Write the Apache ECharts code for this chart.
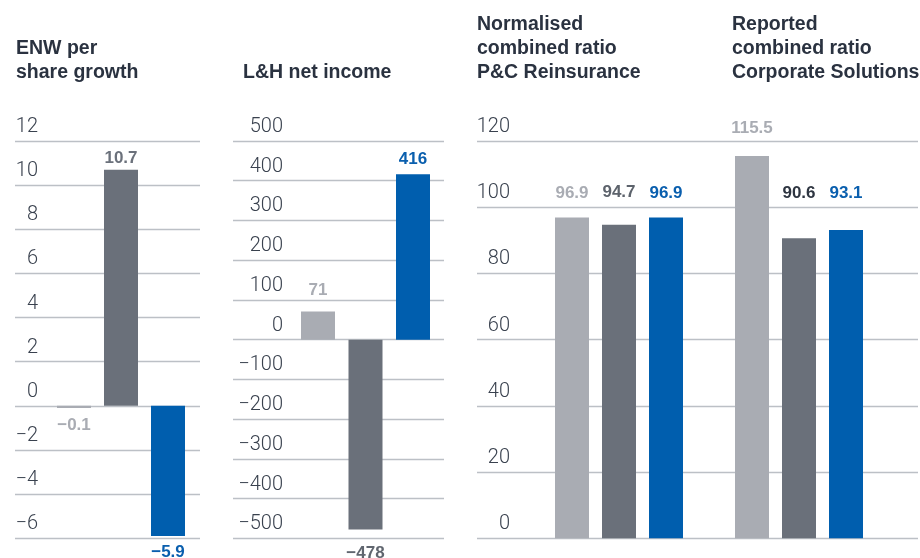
<!DOCTYPE html>
<html><head><meta charset="utf-8">
<script src="https://cdn.jsdelivr.net/npm/echarts@6/dist/echarts.min.js"></script>
<style>html,body{margin:0;padding:0;background:#fff}#c{width:920px;height:558px}</style>
</head><body><div id="c"></div>
<script>
// ---- data ----
const categories = ['Year 1', 'Year 2', 'Year 3'];
const enwPerShareGrowth = [-0.1, 10.7, -5.9];
const lhNetIncome = [71, -478, 416];
const pcReinsuranceRatio = [96.9, 94.7, 96.9];
const corporateSolutionsRatio = [115.5, 90.6, 93.1];
const panelTitles = ['ENW per\nshare growth', 'L&H net income', 'Normalised\ncombined ratio\nP&C Reinsurance', 'Reported\ncombined ratio\nCorporate Solutions'];
const enwTicks = { min: -6, max: 12, interval: 2 };
const lhTicks = { min: -500, max: 500, interval: 100 };
const ratioTicks = { min: 0, max: 120, interval: 20 };

// ---- styles ----
const barColors = ['#a9acb3', '#6a707a', '#005eae'];
const labelColors = [
  ['#a9acb3', '#6b717b', '#0a5fae'],
  ['#a9acb3', '#60666f', '#0a5fae'],
  ['#a9acb3', '#5d636c', '#0a5fae'],
  ['#a9acb3', '#2e3541', '#0a5fae']
];
const labelDistances = [[8.4, 3, 7.6], [12.3, 14.8, 6.6], [16, 24.3, 16], [18.6, 37, 28.6]];
const minus = v => String(v).replace('-', '\u2212');

const gridTop = 141, gridBottom = 19.7;
// axis (gridline) grids and bar grids
const axisGrids = [
  { left: 15, width: 185 },
  { left: 233, width: 211 },
  { left: 477, width: 441 }
];
const axisLabelMargins = [23, 50, 33];
const barGrids = [
  { left: 50.5, width: 141 },
  { left: 294.25, width: 142.5 },
  { left: 548.5, width: 141 },
  { left: 728.5, width: 141 }
];
const panelTicks = [enwTicks, lhTicks, ratioTicks, ratioTicks];
const panelData = [enwPerShareGrowth, lhNetIncome, pcReinsuranceRatio, corporateSolutionsRatio];
const titlePos = [{ left: 16, lines: 2 }, { left: 243, lines: 1 }, { left: 477, lines: 3 }, { left: 732, lines: 3 }];

const grid = [];
const xAxis = [];
const yAxis = [];
const series = [];

axisGrids.forEach((g, i) => {
  grid.push({ left: g.left, width: g.width, top: gridTop, bottom: gridBottom, containLabel: false });
  xAxis.push({ gridIndex: i, type: 'value', show: false });
  const t = [enwTicks, lhTicks, ratioTicks][i];
  yAxis.push({
    gridIndex: i, type: 'value', min: t.min, max: t.max, interval: t.interval,
    axisLine: { show: false }, axisTick: { show: false },
    splitLine: { show: true, lineStyle: { color: '#bcc0c6', width: 1.3 } },
    axisLabel: {
      inside: true, margin: axisLabelMargins[i], align: 'right', verticalAlign: 'bottom',
      padding: [0, 0, 4, 0], fontSize: 20, lineHeight: 20, color: '#39414e',
      fontFamily: 'Roboto, "Liberation Sans", sans-serif', fontWeight: 300,
      formatter: minus
    }
  });
});

barGrids.forEach((g, j) => {
  const gi = axisGrids.length + j;
  grid.push({ left: g.left, width: g.width, top: gridTop, bottom: gridBottom, containLabel: false });
  xAxis.push({ gridIndex: gi, type: 'category', data: categories, show: false, boundaryGap: true });
  const t = panelTicks[j];
  yAxis.push({ gridIndex: gi, type: 'value', min: t.min, max: t.max, interval: t.interval, show: false, splitLine: { show: false } });
  series.push({
    type: 'bar', xAxisIndex: gi, yAxisIndex: gi, barWidth: 34,
    data: panelData[j].map((v, k) => ({
      value: v,
      itemStyle: { color: barColors[k] },
      label: {
        show: true, position: v < 0 ? 'bottom' : 'top', distance: labelDistances[j][k],
        color: labelColors[j][k], formatter: p => minus(p.value)
      }
    })),
    label: { fontSize: 17, fontWeight: 'bold', lineHeight: 17, fontFamily: '"Liberation Sans", Arial, sans-serif' },
    animation: false
  });
});

const title = panelTitles.map((txt, i) => ({
  text: txt, left: titlePos[i].left, top: 61 - (titlePos[i].lines - 1) * 24, padding: 0,
  textStyle: { fontSize: 19.5, fontWeight: 'bold', lineHeight: 24, color: '#2a3240', fontFamily: '"Liberation Sans", Arial, sans-serif' }
}));

const chart = echarts.init(document.getElementById('c'), null, { renderer: 'canvas' });
chart.setOption({ animation: false, backgroundColor: '#fff', title, grid, xAxis, yAxis, series });
</script>
</body></html>
